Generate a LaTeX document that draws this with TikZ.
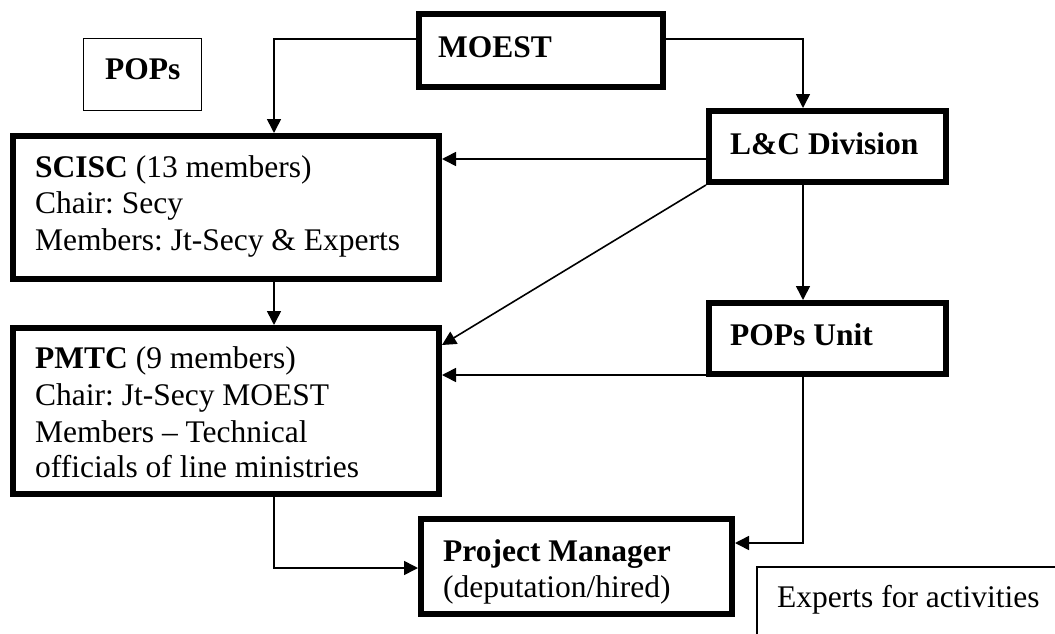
\documentclass[tikz,border=0pt]{standalone}
\usepackage{fontspec}
\setmainfont{Liberation Serif}
\usetikzlibrary{arrows.meta}
\frenchspacing
\begin{document}
\begin{tikzpicture}[x=1pt,y=-1pt,
  thickbox/.style={draw,line width=6pt,rectangle,inner sep=0pt},
  thinbox/.style={draw,line width=1.5pt,rectangle,inner sep=0pt},
  txt/.style={anchor=base west,inner sep=0pt,font=\fontsize{31.5}{36}\selectfont},
  conn/.style={line width=1.6pt},
  arr/.style={conn,-{Triangle[length=14pt,width=14pt]}}]
\useasboundingbox (0,0) rectangle (1055,634);
% boxes (sizes are midline of border)
\node[thickbox,minimum width=244pt,minimum height=73pt] (MOEST) at (540.5,50.5) {};
\node[thinbox,minimum width=118pt,minimum height=72pt] (POPs) at (142.5,74.5) {};
\node[thickbox,minimum width=237pt,minimum height=71pt] (LC) at (827.5,146.5) {};
\node[thickbox,minimum width=426pt,minimum height=143pt] (SCISC) at (226,207.5) {};
\node[thickbox,minimum width=237pt,minimum height=71pt] (PU) at (827.5,338.5) {};
\node[thickbox,minimum width=426pt,minimum height=166pt] (PMTC) at (226,411) {};
\node[thickbox,minimum width=311pt,minimum height=95pt] (PM) at (576.5,566.5) {};
\node[thinbox,minimum width=320pt,minimum height=100pt] (EX) at (917,617) {};
% texts
\node[txt] (tPOPs) at (105,80) {\textbf{POPs}};
\node[txt] (tMOEST) at (438,58) {\textbf{MOEST}};
\node[txt] (tLC) at (730,154) {\textbf{L\&C Division}};
\node[txt] (tS1) at (35,177) {\textbf{SCISC} (13 members)};
\node[txt] (tS2) at (35,213) {Chair: Secy};
\node[txt] (tS3) at (35,250) {Members: Jt-Secy \& Experts};
\node[txt] (tPU) at (730,345) {\textbf{POPs Unit}};
\node[txt] (tP1) at (35,368) {\textbf{PMTC} (9 members)};
\node[txt] (tP2) at (35,405) {Chair: Jt-Secy MOEST};
\node[txt] (tP3) at (35,442) {Members -- Technical};
\node[txt] (tP4) at (35,477) {officials of line ministries};
\node[txt] (tPM1) at (443,561) {\textbf{Project Manager}};
\node[txt] (tPM2) at (443,597) {(deputation/hired)};
\node[txt] (tEX) at (777,607) {Experts for activities};
% connectors
\draw[arr] (MOEST.west |- 0,39) -| (SCISC.north -| 274,0);
\draw[arr] (MOEST.east |- 0,39) -| (LC.north -| 803,0);
\draw[arr] (LC.west |- 0,159) -- (SCISC.east |- 0,159);
\draw[arr] (LC.south west) -- (PMTC.east |- 0,345);
\draw[arr] (LC.south -| 803,0) -- (PU.north -| 803,0);
\draw[arr] (PU.west |- 0,375) -- (PMTC.east |- 0,375);
\draw[arr] (PU.south -| 803,0) |- (PM.east |- 0,543);
\draw[arr] (SCISC.south -| 274,0) -- (PMTC.north -| 274,0);
\draw[arr] (PMTC.south -| 274,0) |- (PM.west |- 0,568);
\end{tikzpicture}
\end{document}
